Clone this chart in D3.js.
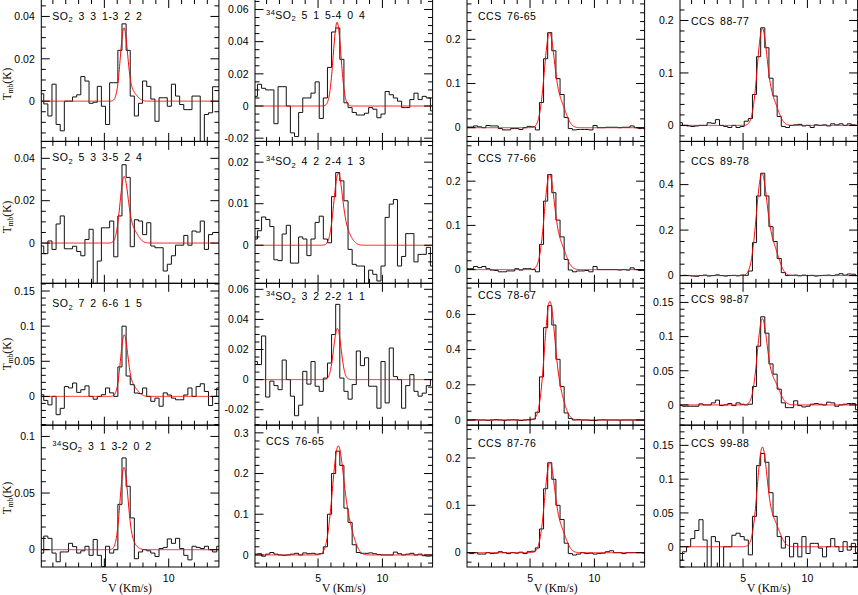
<!DOCTYPE html>
<html><head><meta charset="utf-8">
<script src="https://cdn.jsdelivr.net/npm/d3@7"></script>
<style>body{margin:0;background:#fff}svg{display:block}</style>
</head><body><svg id="c" width="858" height="595"></svg>
<script>
// ---------- DATA ----------
const vFirst = -0.03, dv = 0.32;          // left edge of first channel, channel width (km/s)
const vDomain = [0.1, 13.9];
const xMajor = [5, 10];

const so2_331_322 = [0.0035,-0.0013,-0.007,0.008,-0.011,-0.014,0.000,0.000,0.002,0.003,0.0116,0.0095,-0.001,-0.0005,0.007,-0.0024,-0.011,0.0087,0.0087,0.024,0.0365,0.024,0.0024,-0.007,-0.001,0.0095,0.007,0.001,-0.0095,0.0016,0.0016,-0.0024,0.008,0.0024,-0.0016,-0.004,-0.004,0.0024,0.0024,-0.022,-0.0063,-0.0055,0.0068,0.0068];
const so2_533_524 = [-0.0014,-0.005,0.001,-0.003,0.009,0.0128,-0.0027,-0.0027,-0.0015,-0.004,-0.006,0.0017,0.0065,-0.020,-0.0085,0.0072,0.0072,0.0104,-0.0065,0.0128,0.037,0.031,-0.0017,0.011,0.0104,0.004,0.0096,-0.0014,-0.0022,-0.0022,-0.0132,-0.010,-0.006,-0.001,-0.001,0.0036,-0.001,0.0057,0.0052,0.0104,-0.003,0.004,0.005,0.005];
const so2_726_615 = [0.0024,-0.0057,-0.012,0.000,-0.026,-0.017,0.014,0.012,0.019,0.0057,0.0095,0.015,0.000,-0.004,0.000,0.0024,0.012,0.005,0.000,0.042,0.100,0.029,0.0167,0.0048,0.004,0.012,0.000,-0.007,-0.0024,-0.014,0.005,0.002,-0.0024,-0.0048,-0.0048,0.002,0.012,0.000,0.014,0.018,0.007,-0.013,0.000,0.012];
const s34o2_313_202 = [-0.003,0.012,0.010,-0.003,-0.0107,-0.002,-0.002,0.0056,0.0027,-0.003,-0.001,0.003,-0.005,0.009,-0.005,-0.015,0.003,-0.003,0.000,0.040,0.081,0.056,0.028,-0.008,-0.002,0.000,-0.001,-0.003,-0.006,0.001,0.002,0.0095,0.0056,0.010,0.001,-0.005,-0.009,0.003,0.002,0.001,0.003,0.000,-0.002,0.003];
const s34o2_515_404 = [0.006,0.0135,0.011,0.010,0.010,-0.011,0.012,0.012,0.000,-0.0167,-0.019,-0.004,0.005,0.005,0.008,0.015,-0.0077,0.005,0.024,0.046,0.0485,0.029,0.002,-0.001,-0.004,-0.0056,-0.0056,-0.0045,-0.001,-0.002,-0.0073,-0.005,0.009,0.007,0.005,0.003,-0.001,-0.001,0.004,0.008,0.004,0.006,0.005,-0.003];
const s34o2_422_413 = [0.0015,0.0035,0.0068,0.0062,0.0045,-0.0035,-0.0037,0.0027,0.0048,-0.0043,-0.0043,0.002,0.0015,-0.0025,0.0015,0.0055,0.007,0.0015,0.0006,0.0117,0.0175,0.0155,0.0107,-0.001,-0.0046,-0.005,-0.005,-0.0102,-0.006,-0.007,-0.0086,-0.005,0.0067,0.0099,0.011,-0.005,-0.0027,0.0028,0.0028,-0.004,-0.0022,-0.0022,-0.0005,-0.005];
const s34o2_322_211 = [0.012,0.010,0.029,-0.0116,-0.001,-0.004,-0.0067,0.013,0.000,-0.011,-0.024,-0.017,0.0055,-0.003,0.012,-0.0044,-0.0078,0.001,0.011,0.030,0.050,0.001,-0.0078,-0.013,-0.0033,0.019,0.0093,0.0145,-0.0044,-0.0044,-0.019,0.012,-0.0155,0.021,0.002,0.000,-0.019,-0.004,0.0033,-0.0078,-0.011,-0.009,-0.004,0.000];
const ccs_7665b = [0.002,0.003,-0.003,0.002,0.006,0.002,0.000,-0.001,0.000,0.002,0.004,0.000,0.005,0.003,0.004,0.002,0.003,0.020,0.100,0.200,0.255,0.220,0.115,0.080,0.025,0.006,0.004,0.004,0.005,0.003,0.001,0.000,0.000,0.000,0.007,0.003,0.000,0.002,0.004,0.000,0.002,-0.002,-0.003,-0.002];
const ccs_7665 = [0.0015,0.0015,0.004,0.002,0.000,0.005,0.004,0.004,-0.002,-0.005,-0.005,-0.002,-0.002,-0.004,0.000,0.003,0.002,-0.005,0.057,0.156,0.215,0.174,0.111,0.075,0.023,-0.002,-0.005,-0.004,-0.004,-0.004,-0.005,0.005,0.000,0.000,0.001,0.001,0.001,0.000,0.001,0.001,0.004,0.000,-0.002,-0.002];
const ccs_7766 = [0.002,0.002,0.007,0.0045,0.007,0.002,-0.001,-0.002,-0.005,-0.005,-0.003,-0.003,0.002,-0.001,0.002,0.002,0.000,-0.005,0.057,0.155,0.215,0.174,0.112,0.074,0.023,-0.001,-0.005,-0.003,-0.003,-0.002,-0.005,0.007,0.000,0.000,0.000,0.000,0.000,-0.001,0.000,-0.001,0.004,0.000,-0.002,-0.002];
const ccs_7867 = [0.000,0.000,0.001,0.000,0.000,-0.002,0.000,0.002,0.000,-0.002,0.000,0.001,0.000,-0.003,0.000,0.002,0.005,0.044,0.245,0.525,0.650,0.540,0.345,0.190,0.040,0.008,0.000,0.002,0.000,0.000,-0.002,-0.003,0.000,0.001,0.000,0.000,0.000,-0.001,0.000,0.000,0.000,0.000,0.000,0.000];
const ccs_8776 = [0.000,-0.002,0.000,-0.003,-0.003,0.000,-0.002,-0.001,0.002,0.000,-0.002,0.000,-0.001,0.001,-0.002,0.002,0.003,0.010,0.050,0.135,0.190,0.155,0.100,0.070,0.020,-0.002,-0.005,-0.003,0.000,-0.002,-0.001,-0.003,-0.002,-0.001,0.002,0.004,0.000,0.000,-0.002,0.000,0.000,0.000,0.000,-0.001];
const ccs_8877 = [0.005,0.000,-0.001,-0.002,-0.001,0.000,0.000,0.005,0.004,0.011,0.000,-0.002,-0.004,0.000,-0.004,-0.002,0.008,0.013,0.059,0.131,0.186,0.148,0.090,0.056,0.017,-0.002,-0.004,0.000,0.001,0.002,-0.001,0.000,-0.004,0.001,0.000,0.001,-0.001,0.003,0.001,0.003,0.000,0.003,0.001,0.000];
const ccs_8978 = [0.000,0.001,0.000,-0.002,-0.003,0.000,0.002,-0.002,0.000,0.003,0.000,-0.002,0.000,0.001,-0.001,0.002,0.001,0.020,0.145,0.350,0.450,0.350,0.215,0.150,0.075,0.013,0.000,0.001,0.002,-0.001,0.002,0.000,0.001,-0.002,0.000,0.001,0.002,0.000,0.003,0.008,0.002,0.007,0.006,0.000];
const ccs_9887 = [-0.001,-0.002,-0.002,-0.002,-0.002,0.0015,0.000,0.000,0.003,0.007,-0.001,0.000,0.002,-0.001,0.003,0.001,0.000,0.001,0.027,0.086,0.129,0.105,0.060,0.045,0.023,0.003,-0.004,-0.004,0.006,-0.001,-0.003,-0.002,0.001,0.002,0.001,0.000,0.004,0.003,-0.002,0.000,0.001,0.002,0.002,-0.007];
const ccs_9988 = [-0.020,-0.0075,0.000,0.012,0.024,0.040,0.010,-0.035,0.015,0.0075,-0.040,0.000,0.000,0.017,0.020,0.015,0.010,-0.012,0.045,0.120,0.138,0.125,0.080,0.045,0.015,-0.002,0.015,-0.015,0.005,-0.015,0.015,-0.010,0.005,0.005,-0.002,-0.015,0.000,0.012,0.000,-0.007,0.0075,-0.005,0.005,-0.009];

// panel order: column by column, top to bottom
const spectra = [so2_331_322, so2_533_524, so2_726_615, s34o2_313_202,
                 s34o2_515_404, s34o2_422_413, s34o2_322_211, ccs_7665b,
                 ccs_7665, ccs_7766, ccs_7867, ccs_8776,
                 ccs_8877, ccs_8978, ccs_9887, ccs_9988];
const labelIso   = ["","","","34", "34","34","34","", "","","","", "","","",""];
const labelMol   = ["SO","SO","SO","SO", "SO","SO","SO","CCS", "CCS","CCS","CCS","CCS", "CCS","CCS","CCS","CCS"];
const labelSub   = ["2","2","2","2", "2","2","2","", "","","","", "","","",""];
const labelTrans = [" 3 3 1-3 2 2"," 5 3 3-5 2 4"," 7 2 6-6 1 5"," 3 1 3-2 0 2",
                    " 5 1 5-4 0 4"," 4 2 2-4 1 3"," 3 2 2-2 1 1"," 76-65",
                    " 76-65"," 77-66"," 78-67"," 87-76",
                    " 88-77"," 89-78"," 98-87"," 99-88"];
const yLo = [-0.019,-0.019,-0.041,-0.0153, -0.022,-0.00916,-0.0303,-0.0296, -0.031,-0.031,-0.0296,-0.0303, -0.0305,-0.034,-0.0297,-0.030];
const yHi = [0.048,0.048,0.161,0.110, 0.0662,0.025,0.064,0.319, 0.290,0.290,0.777,0.2695, 0.240,0.590,0.178,0.180];
const yMajor = [0.02,0.02,0.05,0.05, 0.02,0.01,0.02,0.1, 0.1,0.1,0.2,0.1, 0.1,0.2,0.05,0.05];
// two-Gaussian fits: main component and red-shifted component (K, km/s, km/s)
const fitA1 = [0.034,0.030,0.083,0.071, 0.052,0.0165,0.034,0.262, 0.210,0.210,0.660,0.186, 0.180,0.440,0.122,0.143];
const fitV1 = [6.52,6.52,6.53,6.52, 6.48,6.55,6.50,6.55, 6.50,6.50,6.52,6.52, 6.48,6.45,6.48,6.48];
const fitS1 = [0.28,0.31,0.28,0.30, 0.30,0.33,0.29,0.44, 0.39,0.39,0.40,0.39, 0.38,0.42,0.38,0.38];
const fitA2 = [0.004,0.006,0.015,0.006, 0.000,0.003,0.000,0.055, 0.050,0.050,0.120,0.045, 0.042,0.110,0.032,0.035];
const fitV2 = [7.20,7.20,7.15,7.10, 7.00,7.20,7.00,7.45, 7.40,7.40,7.35,7.40, 7.35,7.40,7.40,7.40];
const fitS2 = [0.35,0.40,0.40,0.35, 0.40,0.40,0.40,0.42, 0.42,0.42,0.40,0.42, 0.42,0.42,0.45,0.45];

// ---------- LAYOUT ----------
const colX = [41.3, 255, 467, 680], panelW = 177.6;
const rowY = [-0.5, 141.4, 283.3, 425.1], panelH = 141.9;
const labelDy = [20,20,23.7,24.5, 19.3,24,17,19.8, 20.5,20.7,16,22, 25.3,24,20,22];
const yLabelCenter = [84, 217, 354, 498];
const sansFont = "'Liberation Sans', Arial, sans-serif";
const serifFont = "'Liberation Serif', 'Times New Roman', serif";

const svg = d3.select("#c");
const defs = svg.append("defs");
const fmt = d => String(+d.toFixed(6));
const minorOf = s => { const m = s / Math.pow(10, Math.floor(Math.log10(s) + 1e-9)); return Math.abs(m - 2) < 1e-6 ? s / 4 : s / 5; };
const multiples = (lo, hi, s) => { const out = []; for (let k = Math.ceil(lo / s - 1e-9); k <= Math.floor(hi / s + 1e-9); k++) out.push(+(k * s).toFixed(8)); return out; };
const gauss = (v, a, c, s) => a * Math.exp(-0.5 * Math.pow((v - c) / s, 2));

spectra.forEach((vals, i) => {
  const col = Math.floor(i / 4), row = i % 4;
  const x0 = colX[col], y0 = rowY[row];
  const x = d3.scaleLinear().domain(vDomain).range([x0, x0 + panelW]);
  const y = d3.scaleLinear().domain([yLo[i], yHi[i]]).range([y0 + panelH, y0]);
  const g = svg.append("g");
  const cid = "clip" + i;
  defs.append("clipPath").attr("id", cid).append("rect")
    .attr("x", x0).attr("y", y0).attr("width", panelW).attr("height", panelH);

  // spectrum histogram
  const pts = vals.map((v, k) => [vFirst + k * dv, v]);
  pts.push([vFirst + vals.length * dv, vals[vals.length - 1]]);
  const line = d3.line().x(d => x(d[0])).y(d => y(d[1])).curve(d3.curveStepAfter);
  g.append("path").attr("clip-path", `url(#${cid})`).attr("d", line(pts))
    .attr("fill", "none").attr("stroke", "#111").attr("stroke-width", 1);

  // fit
  const fit = d3.range(vDomain[0], vDomain[1] + 0.001, 0.02).map(v =>
    [v, gauss(v, fitA1[i], fitV1[i], fitS1[i]) + gauss(v, fitA2[i], fitV2[i], fitS2[i])]);
  const fline = d3.line().x(d => x(d[0])).y(d => y(d[1]));
  g.append("path").attr("clip-path", `url(#${cid})`).attr("d", fline(fit))
    .attr("fill", "none").attr("stroke", "#ff0000").attr("stroke-width", 1);

  // frame
  g.append("rect").attr("x", x0).attr("y", y0).attr("width", panelW).attr("height", panelH)
    .attr("fill", "none").attr("stroke", "#000").attr("stroke-width", 1);

  const MJ = 8.5, MN = 4.5;
  const tk = g.append("g").attr("stroke", "#000").attr("stroke-width", 1);
  multiples(vDomain[0], vDomain[1], 1).forEach(v => {
    const L = xMajor.includes(v) ? MJ : MN;
    tk.append("line").attr("x1", x(v)).attr("x2", x(v)).attr("y1", y0 + panelH).attr("y2", y0 + panelH - L);
    tk.append("line").attr("x1", x(v)).attr("x2", x(v)).attr("y1", y0).attr("y2", y0 + L);
  });
  const maj = multiples(yLo[i], yHi[i], yMajor[i]);
  const mn = multiples(yLo[i], yHi[i], minorOf(yMajor[i]));
  mn.forEach(v => {
    const isMaj = maj.some(m => Math.abs(m - v) < 1e-9);
    const L = isMaj ? MJ : MN;
    tk.append("line").attr("x1", x0).attr("x2", x0 + L).attr("y1", y(v)).attr("y2", y(v));
    tk.append("line").attr("x1", x0 + panelW).attr("x2", x0 + panelW - L).attr("y1", y(v)).attr("y2", y(v));
  });
  g.selectAll(".yl").data(maj).join("text")
    .attr("x", x0 - 6.5).attr("y", d => y(d)).attr("dy", "0.36em")
    .attr("text-anchor", "end").attr("font-family", sansFont).attr("font-size", 10.5)
    .text(fmt);

  // label
  const t = g.append("text").attr("x", x0 + 11).attr("y", y0 + labelDy[i])
    .attr("font-family", sansFont).attr("font-size", 10.5).attr("fill", "#000")
    .style("letter-spacing", "0.5px").style("word-spacing", "2px");
  if (labelIso[i]) t.append("tspan").attr("font-size", 7.5).attr("dy", -4).text(labelIso[i]);
  t.append("tspan").attr("dy", labelIso[i] ? 4 : 0).text(labelMol[i]);
  if (labelSub[i]) t.append("tspan").attr("font-size", 7.5).attr("dy", 2.5).text(labelSub[i]);
  t.append("tspan").attr("dy", labelSub[i] ? -2.5 : 0).text(labelTrans[i]);

  if (row === 3) {
    g.selectAll(".xl").data(xMajor).join("text")
      .attr("x", d => x(d)).attr("y", y0 + panelH + 14.5).attr("text-anchor", "middle")
      .attr("font-family", sansFont).attr("font-size", 10.5).text(d => d);
    g.append("text").attr("x", x0 + panelW / 2).attr("y", y0 + panelH + 24.5)
      .attr("text-anchor", "middle").attr("font-family", serifFont).attr("font-size", 11.5)
      .text("V (Km/s)");
  }
  if (col === 0) {
    const yt = svg.append("text").attr("transform", `translate(10.5,${yLabelCenter[row]}) rotate(-90)`)
      .attr("text-anchor", "middle").attr("font-family", serifFont).attr("font-size", 11.5);
    yt.append("tspan").text("T");
    yt.append("tspan").attr("font-size", 7.5).attr("dy", 2).text("mb");
    yt.append("tspan").attr("dy", -2).text("(K)");
  }
});
</script></body></html>
